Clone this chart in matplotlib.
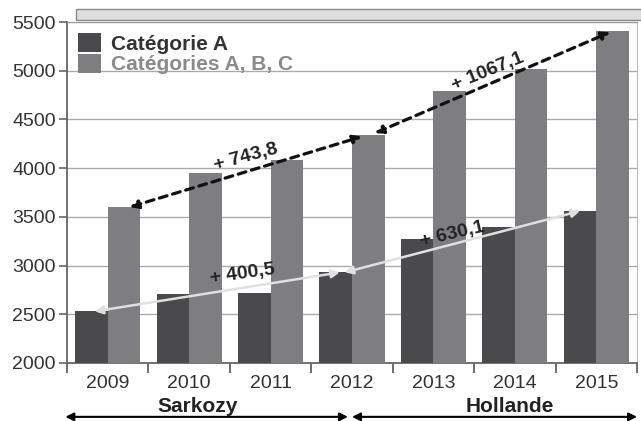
import matplotlib.pyplot as plt
from matplotlib.patches import Rectangle
import matplotlib.transforms as mtransforms

# Data
years = ['2009', '2010', '2011', '2012', '2013', '2014', '2015']
cat_a = [2530, 2705, 2715, 2930, 3270, 3400, 3560]
cat_abc = [3600, 3947, 4084, 4344, 4795, 5018, 5411]
periods = ['Sarkozy', 'Hollande']

plt.rcParams['font.family'] = ['Liberation Sans', 'DejaVu Sans']

fig = plt.figure(figsize=(6.41, 4.21), dpi=100)
ax = fig.add_axes([0.1045, 0.1378, 0.8893, 0.8099])

dark = '#4a4a4d'
light = '#7e7e81'
x = list(range(len(years)))

ax.bar([i - 0.2 for i in x], cat_a, width=0.4, color=dark, label='Catégorie A', zorder=3)
ax.bar([i + 0.2 for i in x], cat_abc, width=0.4, color=light, label='Catégories A, B, C', zorder=3)

ax.set_xlim(-0.5, 6.5)
ax.set_ylim(2000, 5500)
ax.set_yticks(range(2000, 5501, 500))
ax.set_xticks(x)
ax.set_xticklabels(years)
ax.set_xticks([i - 0.5 for i in range(8)], minor=True)
ax.tick_params(axis='x', which='major', length=0, pad=9, labelsize=14, labelcolor='#333333')
ax.tick_params(axis='x', which='minor', length=7, width=1.2, color='#555555')
ax.tick_params(axis='y', length=6, width=1.2, color='#666666', labelsize=14, labelcolor='#333333', pad=2)
ax.grid(axis='y', color='#aaaaaa', lw=1, zorder=0)
for s in ['left', 'bottom']:
    ax.spines[s].set_color('#666666')
    ax.spines[s].set_linewidth(1.3)
ax.spines['top'].set_color('#999999')
ax.spines['right'].set_color('#bbbbbb')

leg = ax.legend(loc='upper left', frameon=False, handlelength=1.1, handleheight=1.0,
                handletextpad=0.45, labelspacing=0.0, borderaxespad=0.0, borderpad=0.55,
                prop={'weight': 'bold', 'size': 15})
leg.get_texts()[0].set_color('#333333')
leg.get_texts()[1].set_color('#8a8a8a')

# arrows between bar tops
def darrow(x0, y0, x1, y1, color, ls, lw):
    ax.annotate('', xy=(x1, y1), xytext=(x0, y0),
                arrowprops=dict(arrowstyle='<|-|>', color=color, ls=ls, lw=lw,
                                mutation_scale=12, shrinkA=0, shrinkB=0), zorder=5)

darrow(0.27, cat_abc[0], 3.12, cat_abc[3] - 20, '#111111', (0, (2.5, 1.8)), 2.3)
darrow(3.28, cat_abc[3] + 15, 6.17, cat_abc[6] - 15, '#111111', (0, (2.5, 1.8)), 2.3)
darrow(-0.16, cat_a[0], 2.85, cat_a[3], '#e0e0e0', '-', 1.8)
darrow(2.91, cat_a[3], 5.80, cat_a[6], '#e0e0e0', '-', 1.8)

lab = dict(ha='center', va='center', fontsize=14, fontweight='bold', color='#222222', zorder=6)
ax.text(1.69, 4110, '+ 743,8', rotation=15, **lab)
ax.text(4.66, 4990, '+ 1067,1', rotation=22, **lab)
ax.text(1.66, 2910, '+ 400,5', rotation=8, **lab)
ax.text(4.23, 3320, '+ 630,1', rotation=13, **lab)

# period arrows below the axis
trans = mtransforms.blended_transform_factory(ax.transData, ax.transAxes)
for (a, b), name in zip([(-0.52, 2.95), (3.0, 6.5)], periods):
    ax.annotate('', xy=(b, -0.158), xytext=(a, -0.158), xycoords=trans, textcoords=trans,
                arrowprops=dict(arrowstyle='<|-|>', color='black', lw=1.5,
                                mutation_scale=12, shrinkA=0, shrinkB=0), annotation_clip=False)
ax.text(1.1, -0.128, periods[0], transform=trans, ha='center', va='center', fontsize=15, fontweight='bold', color='#222222')
ax.text(4.94, -0.128, periods[1], transform=trans, ha='center', va='center', fontsize=15, fontweight='bold', color='#222222')

# gray band at the top
fig.patches.append(Rectangle((76 / 641, 1 - 20 / 421), 1, 11 / 421, transform=fig.transFigure,
                             facecolor='#dddddd', edgecolor='#888888', lw=1))

fig.savefig('out.png', dpi=100)
